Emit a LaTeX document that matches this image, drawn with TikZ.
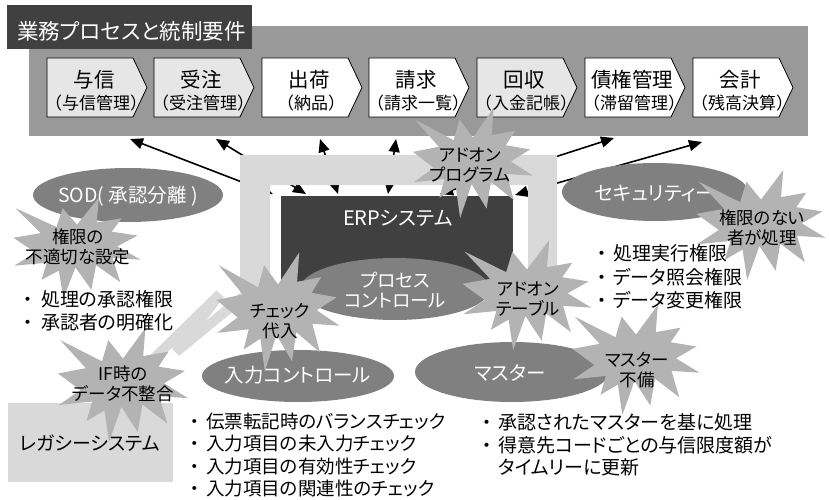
\documentclass[tikz,border=0pt]{standalone}
\usepackage{fontspec}
\setmainfont{Noto Sans CJK JP}[RawFeature=+palt]
\newfontfamily\jpfull{Noto Sans CJK JP}
\usetikzlibrary{shapes.geometric,arrows.meta}
\definecolor{titlegray}{HTML}{404040}
\definecolor{bandgray}{HTML}{999999}
\definecolor{chevlight}{HTML}{E6E6E6}
\definecolor{framegray}{HTML}{D9D9D9}
\definecolor{ellgray}{HTML}{808080}
\definecolor{burstgray}{HTML}{B3B3B3}
\newcommand{\chevron}[5]{%
  \draw[chevline, fill=#3] (#2,58) -- ++(86,0) -- ++(14,29.5) -- ++(-14,29.5) -- ++(-86,0) -- cycle;
  \node[chevtop] (#1t) at (#2+47,80) {#4};
  \node[chevsub] (#1s) at (#2+49,103) {#5};}
\newcommand{\burst}[5]{%
  \begin{scope}[shift={(#1,#2)}, xscale={#5*#3/216}, yscale={#4/216}, shift={(-108,-108)}]
  \fill[burstgray] (108,58) -- (145.22,0) -- (141.55,53.25) -- (183.80,44.57) -- (167.02,73.15) -- (210.97,81.37) -- (176.07,104.75) -- (216,132.90) -- (168.37,129.42) -- (181.45,180.95) -- (140.20,144.57) -- (132.47,197.37) -- (105.32,149.35) -- (84.85,216) -- (77.15,156.27) -- (47.62,176.17) -- (56.67,139.37) -- (1.35,145.87) -- (37.22,117.75) -- (0,86.15) -- (46.27,76.17) -- (3.70,22.95) -- (73.12,63.20) -- (83.52,22.95) -- cycle;
  \end{scope}}
\newcommand{\bulA}{\makebox[26pt][c]{・}}
\newcommand{\bulB}{\makebox[22pt][c]{・}}
\begin{document}
\begin{tikzpicture}[x=1pt,y=-1pt,
  chevline/.style={draw=black, line width=0.8pt},
  chevtop/.style={font=\fontsize{20.5}{24}\selectfont, inner sep=0},
  chevsub/.style={font=\jpfull\fontsize{17}{20}\selectfont, inner sep=0},
  conn/.style={{Triangle[length=13pt,width=11pt]}-{Triangle[length=13pt,width=11pt]}, line width=1.6pt, draw=black},
  ell/.style={ellipse, fill=ellgray, inner sep=0},
  elltext/.style={text=white, font=\fontsize{19.5}{22}\selectfont, align=center, inner sep=0},
  startext/.style={text=black, font=\fontsize{17.5}{20}\selectfont, align=center, inner sep=0},
  listtext/.style={anchor=west, align=left, font=\fontsize{19}{23}\selectfont, inner sep=0}
]
\useasboundingbox (0,0) rectangle (829,500);
% band and title
\fill[bandgray] (29,26) rectangle (808,136);
\node[fill=titlegray, minimum width=245, minimum height=44, inner sep=0, anchor=north west] (titlebox) at (7,5) {};
\node[text=white, font=\fontsize{21.5}{24}\selectfont, inner sep=0, anchor=west] (title) at (17,31) {業務プロセスと統制要件};
% chevrons
\chevron{c1}{47}{chevlight}{与信}{（与信管理）}
\chevron{c2}{154}{chevlight}{受注}{（受注管理）}
\chevron{c3}{262}{white}{出荷}{（納品）}
\chevron{c4}{369}{white}{請求}{（請求一覧）}
\chevron{c5}{477}{chevlight}{回収}{（入金記帳）}
\chevron{c6}{585}{white}{債権管理}{（滞留管理）}
\chevron{c7}{693}{white}{会計}{（残高決算）}
% arrows between ERP and band
\coordinate (a1t) at (130,139); \coordinate (a1b) at (273,194);
\coordinate (a2t) at (216,139); \coordinate (a2b) at (306,194);
\coordinate (a3t) at (320,139); \coordinate (a3b) at (338,194);
\coordinate (a4t) at (396,139); \coordinate (a4b) at (388,194);
\coordinate (a5t) at (502,139); \coordinate (a5b) at (478,194);
\coordinate (a6t) at (614,138); \coordinate (a6b) at (440,194);
\coordinate (a7t) at (702,142); \coordinate (a7b) at (515,195);
\foreach \i in {1,...,7} {\draw[conn] (a\i b) -- (a\i t);}
% frame and bolt
\fill[framegray] (240,155) -- (557,155) -- (557,300) -- (528,300) -- (528,185) -- (270,185) -- (270,292) -- (240,292) -- cycle;
\draw[framegray, line width=10pt, line join=bevel] (255,287) -- (176,352) -- (220,294) -- (140,372);
% ERP box
\node[fill=titlegray, minimum width=232, minimum height=96, inner sep=0, anchor=north west] (erp) at (281,196) {};
\node[text=white, font=\fontsize{20}{24}\selectfont, inner sep=0] (erpt) at (398,218) {ERPシステム};
% legacy
\node[fill=framegray, minimum width=165, minimum height=79, inner sep=0, anchor=north west] (legacy) at (8,403) {};
\node[font=\fontsize{19}{22}\selectfont, inner sep=0] (legacyt) at (90,443) {レガシーシステム};
% ellipses
\node[ell, minimum width=190, minimum height=54] (sod) at (128,195) {};
\node[elltext] (sodt) at (128,196) {SOD( 承認分離 )};
\node[ell, minimum width=186, minimum height=58] (sec) at (655,192) {};
\node[elltext] (sect) at (655,194) {セキュリティー};
\node[ell, minimum width=190, minimum height=62] (proc) at (395,289) {};
\node[elltext, font=\fontsize{18.5}{20}\selectfont] (proct) at (395,290) {プロセス\\コントロール};
\node[ell, minimum width=192, minimum height=52] (inp) at (298,376) {};
\node[elltext] (inpt) at (298,375) {入力コントロール};
\node[ell, minimum width=194, minimum height=60] (mas) at (512,372) {};
\node[elltext] (mast) at (510,373) {マスター};
% bursts
\burst{77}{248}{127}{101}{1}
\burst{473}{163}{120}{110}{1}
\burst{278}{312}{123}{119}{1}
\burst{527}{295}{129}{110}{1}
\burst{761}{225}{129}{110}{1}
\burst{636}{360}{127}{110}{1}
\burst{123}{385}{130}{114}{1}
\node[startext] (b1) at (78,247) {権限の\\不適切な設定};
\node[startext] (b2) at (470,165) {アドオン\\プログラム};
\node[startext] (b3) at (280,321) {チェック\\代入};
\node[startext] (b4) at (528,299) {アドオン\\テーブル};
\node[startext] (b5) at (762,228) {権限のない\\者が処理};
\node[startext] (b6) at (637,370) {マスター\\不備};
\node[startext] (b7) at (123,384) {IF時の\\データ不整合};
% lists
\node[listtext] (l1) at (15,311) {\bulA 処理の承認権限\\\bulA 承認者の明確化};
\node[listtext, font=\fontsize{19}{23.5}\selectfont] (l2) at (591,277) {\bulB 処理実行権限\\\bulB データ照会権限\\\bulB データ変更権限};
\node[listtext, font=\fontsize{18.5}{22.5}\selectfont] (l3) at (184,455) {\bulB 伝票転記時のバランスチェック\\\bulB 入力項目の未入力チェック\\\bulB 入力項目の有効性チェック\\\bulB 入力項目の関連性のチェック};
\node[listtext, font=\fontsize{19}{22.5}\selectfont] (l4) at (476,445) {\bulB 承認されたマスターを基に処理\\\bulB 得意先コードごとの与信限度額が\\\hspace{22pt}タイムリーに更新};
\end{tikzpicture}
\end{document}
